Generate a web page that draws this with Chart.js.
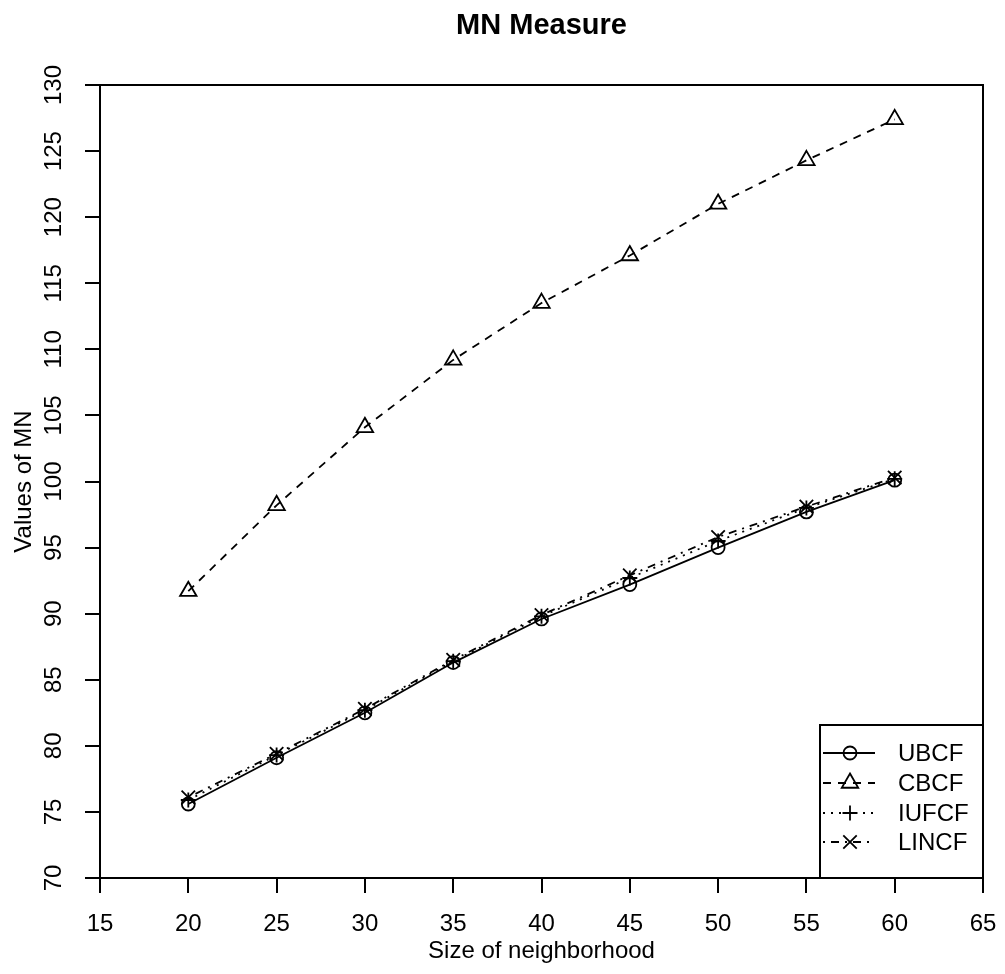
<!DOCTYPE html>
<html>
<head>
<meta charset="utf-8">
<title>MN Measure</title>
<script src="https://cdn.jsdelivr.net/npm/chart.js@4/dist/chart.umd.min.js"></script>
<style>
  html, body { margin: 0; padding: 0; background: #ffffff; }
  canvas { display: block; }
</style>
</head>
<body>
<canvas id="mn" width="1005" height="974"></canvas>
<script>
// Neighbourhood sizes and the MN value of each method
const sizes = [20, 25, 30, 35, 40, 45, 50, 55, 60];
const ubcf  = [75.6, 79.1, 82.5, 86.3, 89.6, 92.2, 95.0, 97.7, 100.1];
const cbcf  = [91.7, 98.2, 104.1, 109.2, 113.5, 117.1, 121.0, 124.3, 127.4];
const iufcf = [75.9, 79.3, 82.7, 86.4, 89.8, 92.7, 95.5, 98.0, 100.2];
const lincf = [76.1, 79.4, 82.8, 86.5, 89.9, 92.9, 95.8, 98.1, 100.3];
const methodNames = ['UBCF', 'CBCF', 'IUFCF', 'LINCF'];

// Axis ranges and tick steps
const xRange = [15, 65];
const yRange = [70, 130];
const xStep = 5;
const yStep = 5;

const FONT = '"Liberation Sans", Arial, Helvetica, sans-serif';
Chart.defaults.font.family = FONT;
Chart.defaults.color = '#000000';

const styles = [
  { dash: [],            pointStyle: 'circle',   radius: 6.5 },
  { dash: [8, 7],        pointStyle: 'triangle', radius: 9.5 },
  { dash: [2, 6],        pointStyle: 'cross',    radius: 7.5 },
  { dash: [2, 6, 8, 6],  pointStyle: 'crossRot', radius: 9.5 }
];
const seriesValues = [ubcf, cbcf, iufcf, lincf];

const datasets = seriesValues.map((vals, i) => ({
  label: methodNames[i],
  data: sizes.map((s, k) => ({ x: s, y: vals[k] })),
  borderColor: '#000000',
  backgroundColor: 'rgba(0,0,0,0)',
  borderWidth: 1.8,
  borderDash: styles[i].dash,
  tension: 0,
  fill: false,
  pointStyle: styles[i].pointStyle,
  pointRadius: styles[i].radius,
  pointBorderWidth: 1.8,
  pointBorderColor: '#000000',
  pointBackgroundColor: 'rgba(0,0,0,0)'
}));

// Small marker painter for the key
function marker(ctx, style, r, x, y) {
  ctx.beginPath();
  if (style === 'circle') {
    ctx.arc(x, y, r, 0, Math.PI * 2);
  } else if (style === 'triangle') {
    for (let k = 0; k < 3; k++) {
      const a = k * 2 * Math.PI / 3;
      const px = x + Math.sin(a) * r, py = y - Math.cos(a) * r;
      if (k === 0) ctx.moveTo(px, py); else ctx.lineTo(px, py);
    }
    ctx.closePath();
  } else if (style === 'cross') {
    ctx.moveTo(x - r, y); ctx.lineTo(x + r, y);
    ctx.moveTo(x, y - r); ctx.lineTo(x, y + r);
  } else if (style === 'crossRot') {
    const d = r * Math.SQRT1_2;
    ctx.moveTo(x - d, y - d); ctx.lineTo(x + d, y + d);
    ctx.moveTo(x - d, y + d); ctx.lineTo(x + d, y - d);
  }
  ctx.stroke();
}

// Frame round the plotting region plus the boxed key in its lower right corner
const frameAndKey = {
  id: 'frameAndKey',
  afterDatasetsDraw(chart) {
    const { ctx, chartArea } = chart;
    ctx.save();
    // key
    const w = 163, h = 153;
    const left = chartArea.right - w, top = chartArea.bottom - h;
    ctx.fillStyle = '#ffffff';
    ctx.fillRect(left, top, w, h);
    ctx.strokeStyle = '#000000';
    ctx.lineWidth = 2;
    ctx.setLineDash([]);
    ctx.strokeRect(left, top, w, h);
    const rows = [28, 58, 88, 117];
    ctx.font = '24px ' + FONT;
    ctx.textAlign = 'left';
    ctx.textBaseline = 'middle';
    chart.data.datasets.forEach((ds, i) => {
      const y = top + rows[i];
      ctx.lineWidth = 1.8;
      ctx.setLineDash(ds.borderDash);
      ctx.beginPath();
      ctx.moveTo(left + 3, y);
      ctx.lineTo(left + 55, y);
      ctx.stroke();
      ctx.setLineDash([]);
      marker(ctx, ds.pointStyle, ds.pointRadius, left + 30, y);
      ctx.fillStyle = '#000000';
      ctx.fillText(ds.label, left + 78, y + 1);
    });
    ctx.restore();
  },
  afterDraw(chart) {
    const { ctx, chartArea } = chart;
    ctx.save();
    ctx.strokeStyle = '#000000';
    ctx.lineWidth = 2;
    ctx.setLineDash([]);
    ctx.strokeRect(chartArea.left, chartArea.top,
                   chartArea.right - chartArea.left, chartArea.bottom - chartArea.top);
    ctx.restore();
  }
};

new Chart(document.getElementById('mn'), {
  type: 'line',
  data: { datasets },
  plugins: [frameAndKey],
  options: {
    responsive: false,
    animation: false,
    devicePixelRatio: 1,
    layout: { padding: { left: 0, right: 22, top: 0, bottom: 0 } },
    plugins: {
      legend: { display: false },
      tooltip: { enabled: false },
      title: {
        display: true,
        text: 'MN Measure',
        fullSize: false,
        color: '#000000',
        font: { size: 29, weight: 'bold', family: FONT, lineHeight: 1.2 },
        padding: { top: 8.6, bottom: 41.6 }
      }
    },
    scales: {
      x: {
        type: 'linear',
        min: xRange[0],
        max: xRange[1],
        afterFit(scale) {
          scale.height = 96;
          scale.paddingLeft = 0;
          scale.paddingRight = 0;
        },
        afterBuildTicks(scale) {
          const t = [];
          for (let v = xRange[0]; v <= xRange[1]; v += xStep) t.push({ value: v });
          scale.ticks = t;
        },
        ticks: {
          font: { size: 24, family: FONT },
          color: '#000000',
          padding: 17,
          maxRotation: 0,
          autoSkip: false
        },
        grid: {
          drawOnChartArea: false,
          drawTicks: true,
          tickLength: 15,
          color: '#000000',
          lineWidth: 2
        },
        border: { display: true, color: '#000000', width: 2 },
        title: {
          display: true,
          text: 'Size of neighborhood',
          color: '#000000',
          font: { size: 24, family: FONT, lineHeight: 1.2 },
          padding: { top: 0, bottom: 8.6 }
        }
      },
      y: {
        type: 'linear',
        min: yRange[0],
        max: yRange[1],
        afterFit(scale) {
          scale.width = 100;
          scale.paddingTop = 0;
          scale.paddingBottom = 0;
        },
        afterBuildTicks(scale) {
          const t = [];
          for (let v = yRange[0]; v <= yRange[1]; v += yStep) t.push({ value: v });
          scale.ticks = t;
        },
        ticks: {
          font: { size: 24, family: FONT },
          color: '#000000',
          padding: 11,
          minRotation: 90,
          maxRotation: 90,
          crossAlign: 'center',
          autoSkip: false
        },
        grid: {
          drawOnChartArea: false,
          drawTicks: true,
          tickLength: 15,
          color: '#000000',
          lineWidth: 2
        },
        border: { display: true, color: '#000000', width: 2 },
        title: {
          display: true,
          text: 'Values of MN',
          color: '#000000',
          font: { size: 24, family: FONT, lineHeight: 1.2 },
          padding: { top: 10, bottom: 0 }
        }
      }
    }
  }
});
</script>
</body>
</html>
